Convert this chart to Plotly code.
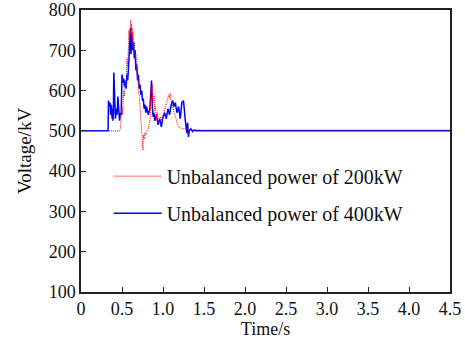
import plotly.graph_objects as go

# Unbalanced power of 200kW (red, dotted)
t_200 = [0, 0.47, 0.48, 0.50, 0.51, 0.52, 0.53, 0.54, 0.55, 0.56, 0.57, 0.575, 0.58, 0.585,
         0.59, 0.595, 0.60, 0.605, 0.61, 0.615, 0.62, 0.625, 0.63, 0.635, 0.64, 0.65, 0.66,
         0.67, 0.68, 0.69, 0.70, 0.71, 0.72, 0.73, 0.74, 0.75, 0.755, 0.76, 0.77, 0.78, 0.79,
         0.80, 0.82, 0.84, 0.85, 0.86, 0.865, 0.87, 0.88, 0.89, 0.90, 0.91, 0.92, 0.93, 0.95,
         0.97, 0.99, 1.01, 1.03, 1.05, 1.07, 1.08, 1.09, 1.10, 1.12, 1.14, 1.16, 1.18, 1.20,
         1.25, 1.35, 1.5, 4.5]
v_200 = [500, 500, 505, 560, 540, 600, 585, 625, 610, 680, 660, 735, 715, 750,
         725, 760, 735, 775, 740, 765, 730, 755, 720, 745, 705, 720, 680,
         690, 640, 650, 600, 590, 560, 520, 505, 470, 452, 490, 480, 495, 490,
         498, 505, 525, 560, 610, 575, 617, 570, 590, 550, 560, 530, 545, 520,
         535, 525, 545, 560, 575, 590, 580, 593, 575, 555, 540, 530, 515, 508,
         505, 503, 502, 502]

# Unbalanced power of 400kW (blue, solid)
t_400 = [0, 0.33, 0.335, 0.345, 0.355, 0.36, 0.37, 0.38, 0.385, 0.39, 0.395, 0.40, 0.405,
         0.41, 0.42, 0.43, 0.44, 0.45, 0.46, 0.47, 0.48, 0.49, 0.50, 0.51, 0.52, 0.53, 0.54,
         0.55, 0.56, 0.57, 0.58, 0.59, 0.60, 0.605, 0.61, 0.62, 0.63, 0.64, 0.65, 0.66, 0.67,
         0.68, 0.69, 0.70, 0.71, 0.72, 0.73, 0.74, 0.75, 0.76, 0.77, 0.78, 0.79, 0.80, 0.82,
         0.84, 0.85, 0.86, 0.87, 0.88, 0.89, 0.90, 0.92, 0.94, 0.96, 0.98, 1.00, 1.02, 1.04,
         1.06, 1.08, 1.10, 1.12, 1.13, 1.15, 1.17, 1.19, 1.21, 1.23, 1.25, 1.27, 1.29, 1.30,
         1.31, 1.32, 1.34, 1.36, 1.38, 1.40, 4.5]
v_400 = [500, 500, 575, 560, 570, 540, 565, 530, 555, 525, 545, 645, 600,
         545, 530, 555, 540, 585, 535, 525, 545, 540, 640, 620, 630, 610, 625,
         605, 640, 625, 660, 700, 720, 755, 690, 740, 700, 720, 680, 700, 650,
         665, 625, 640, 605, 615, 590, 600, 575, 580, 555, 565, 545, 560, 540,
         555, 590, 625, 560, 535, 545, 525, 540, 515, 530, 510, 535, 545, 530,
         555, 540, 565, 575, 560, 570, 545, 560, 530, 570, 575, 530, 495, 520,
         485, 500, 505, 498, 502, 500, 500]

x_tickvals = [0, 0.5, 1.0, 1.5, 2.0, 2.5, 3.0, 3.5, 4.0, 4.5]
x_ticktext = ["0", "0.5", "1.0", "1.5", "2.0", "2.5", "3.0", "3.5", "4.0", "4.5"]
y_tickvals = [100, 200, 300, 400, 500, 600, 700, 800]

FONT = "Liberation Serif, Times New Roman, serif"

fig = go.Figure()
fig.add_trace(go.Scatter(x=t_400, y=v_400, mode="lines", name="Unbalanced power of 400kW",
                         line=dict(color="#0000ff", width=1.5), legendgroup="b", legendrank=2))
fig.add_trace(go.Scatter(x=t_200, y=v_200, mode="lines", name="Unbalanced power of 200kW",
                         line=dict(color="#ff0000", width=1, dash="1px,1px"), legendgroup="a", legendrank=1))

axis_common = dict(showline=True, linecolor="#222222", linewidth=1.5, mirror=True,
                   ticks="inside", ticklen=5, tickcolor="#222222", showgrid=False,
                   zeroline=False, automargin=False,
                   tickfont=dict(family=FONT, size=18, color="#111111"))

fig.update_layout(
    width=465, height=345,
    margin=dict(l=81, r=15, t=10, b=53),
    paper_bgcolor="white", plot_bgcolor="white",
    font=dict(family=FONT, color="#111111"),
    xaxis=dict(range=[0, 4.5], tickvals=x_tickvals, ticktext=x_ticktext,
               title=dict(text="Time/s", font=dict(family=FONT, size=18), standoff=0),
               **axis_common),
    yaxis=dict(range=[100, 800], tickvals=y_tickvals,
               title=dict(text="Voltage/kV", font=dict(family=FONT, size=19), standoff=12),
               **axis_common),
    showlegend=True,
    legend=dict(x=0.075, y=0.48, xanchor="left", yanchor="top", bgcolor="rgba(0,0,0,0)",
                font=dict(family=FONT, size=20), tracegroupgap=8, itemwidth=48),
)

fig.write_html("out.html", config={"displayModeBar": False},
               post_script="document.body.style.margin='0';")
